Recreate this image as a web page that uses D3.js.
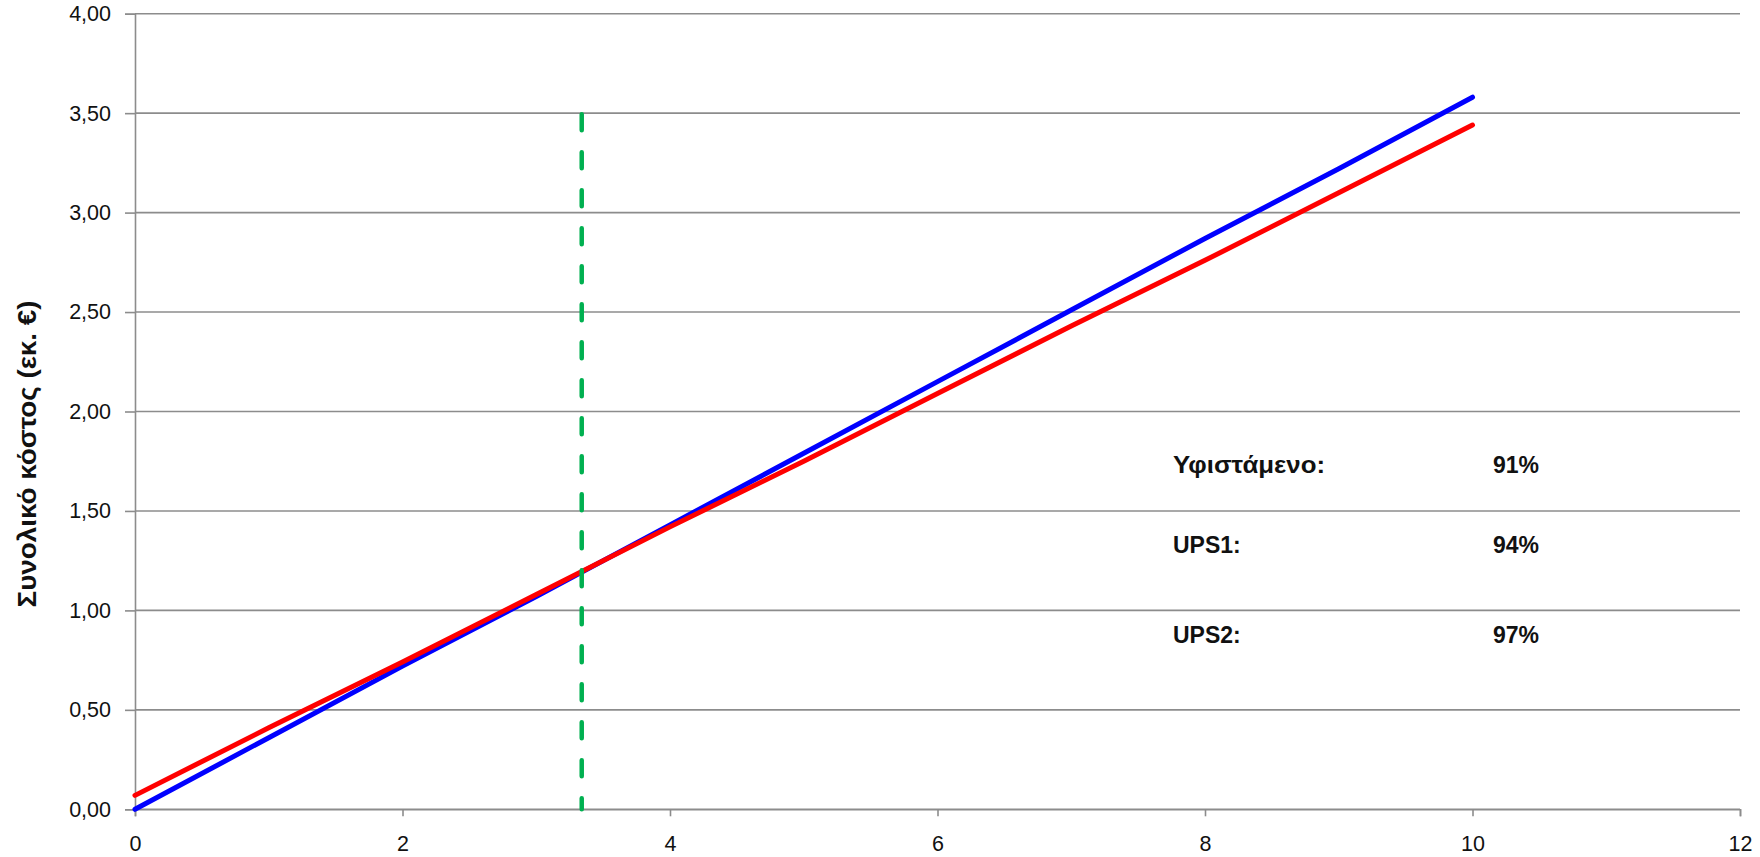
<!DOCTYPE html>
<html>
<head>
<meta charset="utf-8">
<script src="https://cdn.jsdelivr.net/npm/d3@7"></script>
<style>
  html, body { margin: 0; padding: 0; background: #fff; }
  svg { display: block; }
  text { font-family: "Liberation Sans", Arial, sans-serif; fill: #111; }
</style>
</head>
<body>
<svg id="chart" width="1760" height="857"></svg>
<script>
// Years of operation (x) and cumulative total cost in million € (y)
const years = [0, 1, 2, 3, 4, 5, 6, 7, 8, 9, 10];
const costLine1 = [0.00, 0.36, 0.72, 1.07, 1.43, 1.79, 2.15, 2.51, 2.87, 3.22, 3.58];
const costLine2 = [0.07, 0.41, 0.74, 1.08, 1.42, 1.75, 2.09, 2.43, 2.76, 3.10, 3.44];

// Break-even marker
const breakEvenX = 3.34;
const breakEvenTop = 3.5;

// Axis ticks
const xTicks = [0, 2, 4, 6, 8, 10, 12];
const yTicks = [0, 0.5, 1, 1.5, 2, 2.5, 3, 3.5, 4];

// Efficiency table shown inside the plot
const effLabels = ["Υφιστάμενο:", "UPS1:", "UPS2:"];
const effValues = ["91%", "94%", "97%"];

const yTitle = "Συνολικό κόστος (εκ. €)";

const svg = d3.select("#chart");
const x = d3.scaleLinear().domain([0, 12]).range([135, 1740]);
const y = d3.scaleLinear().domain([0, 4]).range([809.3, 13.7]);

const fmt = v => d3.format(".2f")(v).replace(".", ",");

// Horizontal gridlines
svg.append("g")
  .selectAll("line")
  .data(yTicks)
  .join("line")
  .attr("x1", x(0)).attr("x2", x(12))
  .attr("y1", d => y(d)).attr("y2", d => y(d))
  .attr("stroke", "#8c8c8c").attr("stroke-width", 1.6);

// Y axis
const yAxis = svg.append("g")
  .attr("transform", `translate(${x(0)},0)`)
  .call(d3.axisLeft(y).tickValues(yTicks).tickFormat(fmt).tickSize(10).tickPadding(14));
yAxis.select(".domain").attr("stroke", "#8c8c8c").attr("stroke-width", 1.6);
yAxis.selectAll(".tick line").attr("stroke", "#8c8c8c").attr("stroke-width", 1.6);
yAxis.selectAll(".tick text")
  .attr("font-size", 21.5).attr("fill", "#111")
  .attr("font-family", "Liberation Sans, Arial, sans-serif");

// X axis
const xAxis = svg.append("g")
  .attr("transform", `translate(0,${y(0)})`)
  .call(d3.axisBottom(x).tickValues(xTicks).tickFormat(d3.format("d")).tickSize(7).tickPadding(19));
xAxis.select(".domain").attr("stroke", "#8c8c8c").attr("stroke-width", 1.6);
xAxis.selectAll(".tick line").attr("stroke", "#8c8c8c").attr("stroke-width", 1.6);
xAxis.selectAll(".tick text")
  .attr("font-size", 21.5).attr("fill", "#111")
  .attr("font-family", "Liberation Sans, Arial, sans-serif");

// Y axis title
svg.append("text")
  .attr("transform", `translate(36,454) rotate(-90)`)
  .attr("text-anchor", "middle")
  .attr("font-size", 25).attr("font-weight", "bold")
  .attr("textLength", 307).attr("lengthAdjust", "spacingAndGlyphs")
  .text(yTitle);

// Cost lines
const line = d3.line().x((d, i) => x(years[i])).y(d => y(d));
svg.append("path").datum(costLine1)
  .attr("d", line).attr("fill", "none")
  .attr("stroke", "#0000ff").attr("stroke-width", 5).attr("stroke-linecap", "round");
svg.append("path").datum(costLine2)
  .attr("d", line).attr("fill", "none")
  .attr("stroke", "#ff0000").attr("stroke-width", 5).attr("stroke-linecap", "round");

// Break-even dashed marker, drawn downward from its top
svg.append("line")
  .attr("x1", x(breakEvenX)).attr("x2", x(breakEvenX))
  .attr("y1", y(breakEvenTop) + 1).attr("y2", y(0))
  .attr("stroke", "#00b050").attr("stroke-width", 4.5)
  .attr("stroke-linecap", "round")
  .attr("stroke-dasharray", "16,22");

// Efficiency table
const baselines = [473, 553, 643];
effLabels.forEach((lbl, i) => {
  const t = svg.append("text").attr("x", 1173).attr("y", baselines[i])
    .attr("font-size", 23).attr("font-weight", "bold").text(lbl);
  if (i === 0) t.attr("textLength", 152).attr("lengthAdjust", "spacingAndGlyphs");
  svg.append("text").attr("x", 1493).attr("y", baselines[i])
    .attr("font-size", 23).attr("font-weight", "bold").text(effValues[i]);
});
</script>
</body>
</html>
